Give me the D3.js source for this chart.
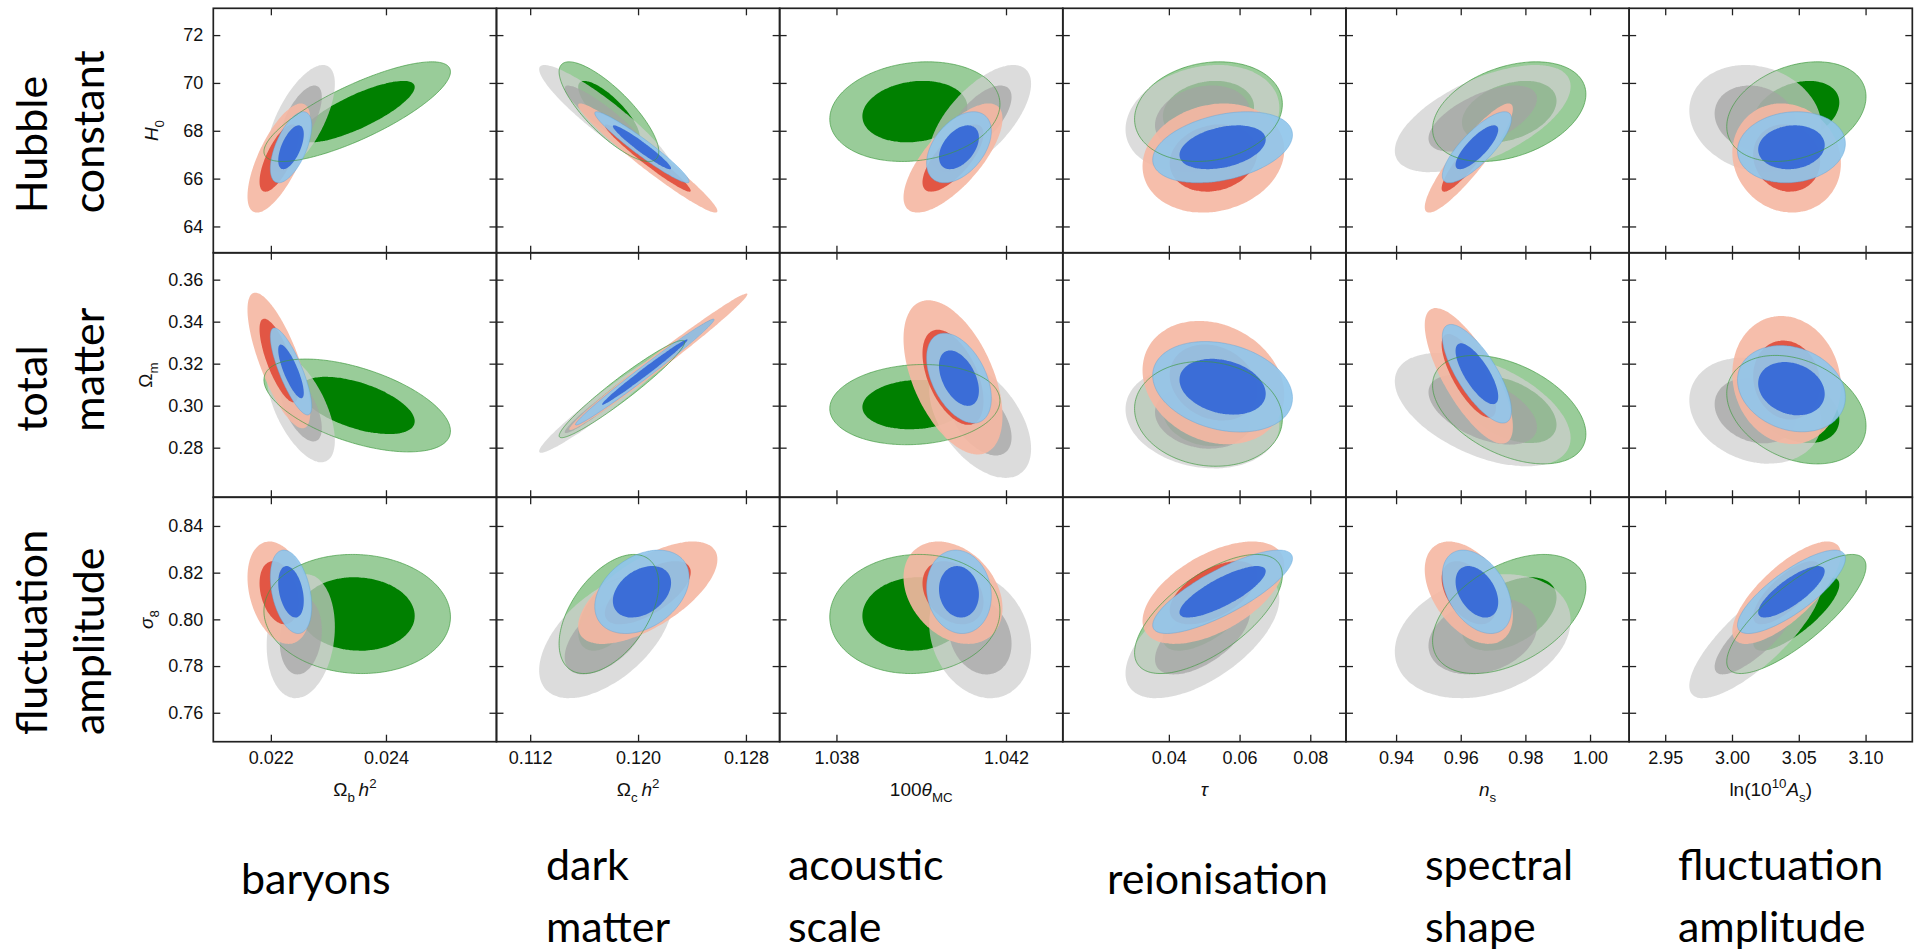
<!DOCTYPE html>
<html><head><meta charset="utf-8">
<script src="https://cdn.jsdelivr.net/npm/d3@7"></script>
<style>
html,body{margin:0;padding:0;background:#fff;}
svg{display:block;}
</style></head><body>
<svg id="chart" width="1923" height="952"></svg>
<script>
// Parameters on the x axis (columns) and y axis (rows)
const colParams = ["ombh2", "omch2", "theta", "tau", "ns", "logA"];
const rowParams = ["H0", "omegam", "sigma8"];

const xDomains = [[0.02100, 0.02592], [0.1095, 0.1305], [1.03666, 1.04334], [0.0100, 0.0901], [0.9245, 1.0121], [2.923, 3.135]];
const yDomains = [[62.9, 73.12], [0.2564, 0.3728], [0.7476, 0.8523]];
const xTicks = [[0.022, 0.024], [0.112, 0.120, 0.128], [1.038, 1.042], [0.04, 0.06, 0.08], [0.94, 0.96, 0.98, 1.00], [2.95, 3.00, 3.05, 3.10]];
const xTickFormats = [".3f", ".3f", ".3f", ".2f", ".2f", ".2f"];
const yTicks = [[64, 66, 68, 70, 72], [0.28, 0.30, 0.32, 0.34, 0.36], [0.76, 0.78, 0.80, 0.82, 0.84]];
const yTickFormats = ["d", ".2f", ".2f"];

// Axis titles (segments: text, italic, sub/superscript)
const xTitles = [
  [{t: "Ω"}, {t: "b", sub: 1}, {t: "\u2009"}, {t: "h", it: 1}, {t: "2", sup: 1}],
  [{t: "Ω"}, {t: "c", sub: 1}, {t: "\u2009"}, {t: "h", it: 1}, {t: "2", sup: 1}],
  [{t: "100"}, {t: "θ", it: 1}, {t: "MC", sub: 1}],
  [{t: "τ", it: 1}],
  [{t: "n", it: 1}, {t: "s", sub: 1}],
  [{t: "ln(10"}, {t: "10", sup: 1}, {t: "A", it: 1}, {t: "s", sub: 1}, {t: ")"}]
];
const yTitles = [
  [{t: "H", it: 1}, {t: "0", sub: 1}],
  [{t: "Ω"}, {t: "m", sub: 1}],
  [{t: "σ", it: 1}, {t: "8", sub: 1}]
];

// Physical meaning of each row / column
const rowNames = [["Hubble", "constant"], ["total", "matter"], ["fluctuation", "amplitude"]];
const colNames = [["baryons"], ["dark", "matter"], ["acoustic", "scale"], ["reionisation"], ["spectral", "shape"], ["fluctuation", "amplitude"]];

// Contours per panel, row by row (H0, Omega_m, sigma8) across the six columns:
// [x mean, y mean, x sigma, y sigma, correlation]
const greenContours = [
  [0.02350, 68.80, 0.000662, 0.851, 0.80], [0.11784, 68.80, 0.00151, 0.851, -0.80], [1.03985, 68.80, 0.00082, 0.851, 0.15],
  [0.0512, 68.80, 0.00854, 0.851, 0.15], [0.9750, 68.80, 0.00969, 0.851, 0.35], [3.0482, 68.80, 0.0213, 0.851, 0.30],
  [0.02350, 0.3001, 0.000662, 0.00903, -0.55], [0.1188, 0.3079, 0.0019, 0.00946, 0.96], [1.03985, 0.3005, 0.00082, 0.0078, 0.10],
  [0.0512, 0.2961, 0.00854, 0.01019, -0.10], [0.9750, 0.2981, 0.00969, 0.01055, -0.45], [3.0482, 0.2981, 0.0213, 0.01055, -0.30],
  [0.02350, 0.8023, 0.000662, 0.01042, -0.05], [0.11784, 0.8023, 0.00151, 0.01042, 0.50], [1.03985, 0.8023, 0.00082, 0.01042, 0.05],
  [0.0512, 0.8023, 0.00854, 0.01042, 0.65], [0.9750, 0.8023, 0.00969, 0.01042, 0.45], [3.0482, 0.8023, 0.0213, 0.01042, 0.80]
];
const grayContours = [
  [0.02252, 68.51, 0.000242, 0.915, 0.65], [0.11761, 68.51, 0.00202, 0.915, -0.92], [1.04139, 68.51, 0.000491, 0.915, 0.65],
  [0.0495, 68.51, 0.00889, 0.915, 0.20], [0.9668, 68.51, 0.01111, 0.915, 0.60], [3.0175, 68.51, 0.0202, 0.915, -0.15],
  [0.02252, 0.2989, 0.000242, 0.01056, -0.60], [0.11761, 0.3020, 0.00202, 0.00997, 0.97], [1.04139, 0.2935, 0.000491, 0.0114, -0.50],
  [0.0495, 0.2946, 0.00889, 0.0100, -0.15], [0.9668, 0.2981, 0.01111, 0.01103, -0.50], [3.0175, 0.2976, 0.0202, 0.0103, -0.20],
  [0.02252, 0.7928, 0.000242, 0.01085, 0.15], [0.11761, 0.7928, 0.00202, 0.01085, 0.55], [1.04139, 0.7928, 0.000491, 0.01085, -0.20],
  [0.0495, 0.7928, 0.00889, 0.01085, 0.60], [0.9668, 0.7928, 0.01111, 0.01085, 0.25], [3.0175, 0.7928, 0.0202, 0.01085, 0.80]
];
const redContours = [
  [0.02214, 66.86, 0.000223, 0.932, 0.70], [0.12072, 66.86, 0.00211, 0.932, -0.97], [1.04075, 66.86, 0.000477, 0.932, 0.72],
  [0.0526, 66.86, 0.00819, 0.932, 0.15], [0.9625, 66.86, 0.00557, 0.932, 0.90], [3.0409, 66.86, 0.0166, 0.932, -0.10],
  [0.02214, 0.3215, 0.000223, 0.01319, -0.75], [0.1215, 0.3209, 0.0027, 0.01328, 0.99], [1.04075, 0.3135, 0.000477, 0.0150, -0.50],
  [0.0526, 0.3110, 0.00819, 0.0120, -0.20], [0.9625, 0.3142, 0.00557, 0.01318, -0.75], [3.0409, 0.3122, 0.0166, 0.01246, -0.10],
  [0.02214, 0.8114, 0.000223, 0.00896, -0.30], [0.12072, 0.8114, 0.00211, 0.00896, 0.65], [1.04075, 0.8114, 0.000477, 0.00896, -0.30],
  [0.0526, 0.8114, 0.00819, 0.00896, 0.55], [0.9625, 0.8114, 0.00557, 0.00896, -0.45], [3.0409, 0.8114, 0.0166, 0.00896, 0.75]
];
const blueContours = [
  [0.02235, 67.31, 0.000147, 0.607, 0.60], [0.12029, 67.31, 0.00143, 0.607, -0.96], [1.04089, 67.31, 0.000312, 0.607, 0.45],
  [0.0552, 67.31, 0.00808, 0.607, 0.35], [0.9650, 67.31, 0.00437, 0.607, 0.80], [3.0445, 67.31, 0.0165, 0.607, 0.10],
  [0.02235, 0.3163, 0.000147, 0.00846, -0.80], [0.1205, 0.3160, 0.0021, 0.0103, 0.99], [1.04089, 0.3131, 0.000312, 0.00875, -0.45],
  [0.0552, 0.3090, 0.00808, 0.0088, -0.25], [0.9650, 0.3152, 0.00437, 0.00959, -0.75], [3.0445, 0.3081, 0.0165, 0.00839, -0.20],
  [0.02235, 0.8118, 0.000147, 0.0073, -0.35], [0.12029, 0.8118, 0.00143, 0.0073, 0.35], [1.04089, 0.8118, 0.000312, 0.0073, -0.10],
  [0.0552, 0.8118, 0.00808, 0.0073, 0.80], [0.9650, 0.8118, 0.00437, 0.0073, -0.40], [3.0445, 0.8118, 0.0165, 0.0073, 0.80]
];

// Drawing order and colours of the constraint sets
const datasets = [
  {cont: greenContours, outer: "#99cc99", inner: "#008000", alpha: 1.0},
  {cont: grayContours,  outer: "#cfcfcf", inner: "#a4a4a4", alpha: 0.72},
  {cont: redContours,   outer: "#f5b7a2", inner: "#e04a38", alpha: 0.9},
  {cont: blueContours,  outer: "#90c6ea", inner: "#3366d6", alpha: 0.92}
];
// 2D Gaussian radii enclosing 68% and 95%
const K68 = Math.sqrt(-2 * Math.log(0.32));
const K95 = Math.sqrt(-2 * Math.log(0.05));

// Layout
const grid = {left: 213.3, top: 8.3, w: 283.17, h: 244.47};
const tickFont = "'Liberation Sans', Arial, sans-serif";
const bigFont = "Lato, 'Open Sans', sans-serif";
const rowLabelStart = [213.3, 431.7, 735];
const rowLabelX = [47, 104];
const yTitleX = [158, 152, 153];
const colLabelX = [241, 546, 788, 1107, 1425, 1678];
const colLabelY = {one: [894], two: [880, 942]};

const svg = d3.select("#chart");
svg.append("rect").attr("width", 1923).attr("height", 952).attr("fill", "#fff");

function richText(sel, segs, size) {
  let shift = 0;
  segs.forEach(s => {
    const target = s.sub ? 0.32 * size : s.sup ? -0.42 * size : 0;
    sel.append("tspan")
      .attr("dy", target - shift)
      .attr("font-size", (s.sub || s.sup) ? size * 0.7 : size)
      .attr("font-style", s.it ? "italic" : null)
      .text(s.t);
    shift = target;
  });
}

const line = d3.line().curve(d3.curveCardinalClosed.tension(0.3));
const nPts = 90;

rowParams.forEach((rp, r) => {
  colParams.forEach((cp, c) => {
    const x0 = grid.left + c * grid.w, y0 = grid.top + r * grid.h;
    const x = d3.scaleLinear().domain(xDomains[c]).range([x0, x0 + grid.w]);
    const y = d3.scaleLinear().domain(yDomains[r]).range([y0 + grid.h, y0]);
    const clipId = `clip-${r}-${c}`;
    svg.append("clipPath").attr("id", clipId)
      .append("rect").attr("x", x0).attr("y", y0).attr("width", grid.w).attr("height", grid.h);
    const g = svg.append("g").attr("clip-path", `url(#${clipId})`);

    const ellipse = (ds, k) => {
      const [mx, my, sx, sy, rho] = ds.cont[r * 6 + c];
      const q = Math.sqrt(1 - rho * rho);
      return d3.range(nPts).map(j => {
        const t = j / nPts * 2 * Math.PI, u = Math.cos(t), v = Math.sin(t);
        return [x(mx + k * sx * u), y(my + k * sy * (rho * u + q * v))];
      });
    };

    datasets.forEach(ds => {
      g.append("path").attr("d", line(ellipse(ds, K95)))
        .attr("fill", ds.outer).attr("fill-opacity", ds.alpha);
      g.append("path").attr("d", line(ellipse(ds, K68)))
        .attr("fill", ds.inner).attr("fill-opacity", ds.alpha);
    });
    // thin edge of the outer green region, visible through the others
    g.append("path").attr("d", line(ellipse(datasets[0], K95)))
      .attr("fill", "none").attr("stroke", "#3f9a3f").attr("stroke-width", 0.9).attr("stroke-opacity", 0.75);
    g.append("path").attr("d", line(ellipse(datasets[3], K95)))
      .attr("fill", "none").attr("stroke", "#5d9fd8").attr("stroke-width", 0.8).attr("stroke-opacity", 0.5);

    // inward ticks on all four sides
    const tickStyle = a => {
      a.select(".domain").remove();
      a.selectAll(".tick line").attr("stroke", "#222").attr("stroke-width", 1.3);
      a.selectAll("text").attr("font-family", tickFont).attr("font-size", 18).attr("fill", "#111");
    };
    const lastRow = r === rowParams.length - 1;
    svg.append("g").attr("transform", `translate(0,${y0 + grid.h})`)
      .call(d3.axisBottom(x).tickValues(xTicks[c]).tickSize(-7).tickPadding(10)
        .tickFormat(lastRow ? d3.format(xTickFormats[c]) : () => ""))
      .call(tickStyle);
    svg.append("g").attr("transform", `translate(0,${y0})`)
      .call(d3.axisTop(x).tickValues(xTicks[c]).tickSize(-7).tickFormat(() => ""))
      .call(tickStyle);
    svg.append("g").attr("transform", `translate(${x0},0)`)
      .call(d3.axisLeft(y).tickValues(yTicks[r]).tickSize(-7).tickPadding(10)
        .tickFormat(c === 0 ? d3.format(yTickFormats[r]) : () => ""))
      .call(tickStyle);
    svg.append("g").attr("transform", `translate(${x0 + grid.w},0)`)
      .call(d3.axisRight(y).tickValues(yTicks[r]).tickSize(-7).tickFormat(() => ""))
      .call(tickStyle);

    svg.append("rect").attr("x", x0).attr("y", y0).attr("width", grid.w).attr("height", grid.h)
      .attr("fill", "none").attr("stroke", "#222").attr("stroke-width", 1.7);
  });
});

// x axis titles
xTitles.forEach((segs, c) => {
  const t = svg.append("text")
    .attr("x", grid.left + (c + 0.5) * grid.w).attr("y", 796)
    .attr("text-anchor", "middle").attr("font-family", tickFont).attr("fill", "#111");
  richText(t, segs, 19);
});
// y axis titles
yTitles.forEach((segs, r) => {
  const cy = grid.top + (r + 0.5) * grid.h;
  const t = svg.append("text")
    .attr("transform", `translate(${yTitleX[r]},${cy}) rotate(-90)`)
    .attr("text-anchor", "middle").attr("font-family", tickFont).attr("fill", "#111");
  richText(t, segs, 19);
});

// row names, rotated
rowNames.forEach((lines, r) => {
  lines.forEach((txt, i) => {
    svg.append("text")
      .attr("transform", `translate(${rowLabelX[i]},${rowLabelStart[r]}) rotate(-90)`)
      .attr("font-family", bigFont).attr("font-size", 43).attr("fill", "#000")
      .text(txt);
  });
});
// column names
colNames.forEach((lines, c) => {
  const ys = lines.length === 1 ? colLabelY.one : colLabelY.two;
  lines.forEach((txt, i) => {
    svg.append("text")
      .attr("x", colLabelX[c]).attr("y", ys[i])
      .attr("font-family", bigFont).attr("font-size", 43).attr("fill", "#000")
      .text(txt);
  });
});
</script>
</body></html>
